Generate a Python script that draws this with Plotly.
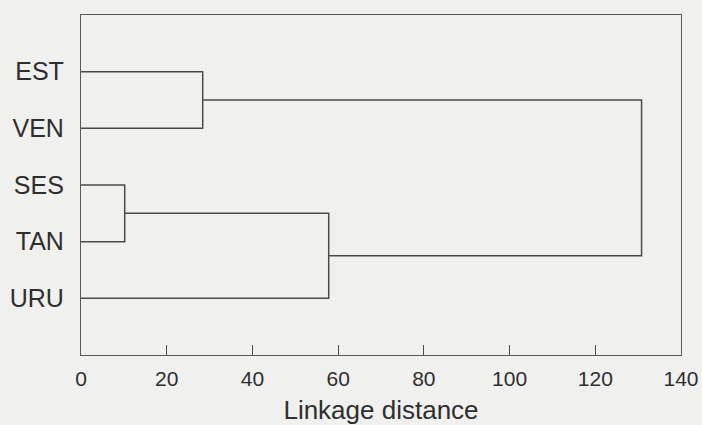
import plotly.graph_objects as go

# Data
leaves = ["EST", "VEN", "SES", "TAN", "URU"]
leaf_pos = [5, 4, 3, 2, 1]
# merges: (child_a, child_b, linkage distance); indices >= len(leaves) refer to earlier merges
merges = [
    (0, 1, 28.4),
    (2, 3, 10.2),
    (6, 4, 57.8),
    (5, 7, 130.8),
]
x_ticks = [0, 20, 40, 60, 80, 100, 120, 140]

# Build dendrogram segments
node_y = list(leaf_pos)
node_h = [0.0] * len(leaves)
xs, ys = [], []
for a, b, d in merges:
    ya, yb = node_y[a], node_y[b]
    ha, hb = node_h[a], node_h[b]
    xs += [ha, d, d, hb, None]
    ys += [ya, ya, yb, yb, None]
    node_y.append((ya + yb) / 2)
    node_h.append(d)

line_col = "#4a4a4a"
text_col = "#2e2e2e"
bg = "#f0f0ee"

fig = go.Figure()
fig.add_trace(go.Scatter(x=xs, y=ys, mode="lines",
                         line=dict(color=line_col, width=1.5),
                         hoverinfo="skip", showlegend=False))

fig.update_layout(
    width=702, height=425,
    margin=dict(l=81, r=21, t=15, b=70, autoexpand=False),
    paper_bgcolor=bg, plot_bgcolor=bg,
    font=dict(family="Liberation Sans, Arial, sans-serif", size=21, color=text_col),
    showlegend=False,
)
fig.update_xaxes(
    range=[0, 140], tickvals=x_ticks, ticktext=[str(v) for v in x_ticks],
    ticks="inside", ticklen=10, tickwidth=1.2, tickcolor=line_col,
    showline=True, linecolor="#5a5a5a", linewidth=1.2, mirror=True,
    showgrid=False, zeroline=False, ticklabelstandoff=5, automargin=False,
    title=dict(text="Linkage distance", standoff=13, font=dict(size=26)),
    tickfont=dict(size=21),
)
fig.update_yaxes(
    range=[0, 6], tickvals=leaf_pos, ticktext=leaves,
    ticks="", showline=True, linecolor="#5a5a5a", linewidth=1.2, mirror=True,
    showgrid=False, zeroline=False, ticklabelstandoff=11, automargin=False,
    tickfont=dict(size=25),
)

fig.write_html(
    "out.html",
    config={"displayModeBar": False},
    post_script="document.body.style.margin='0';document.body.style.background='%s';" % bg,
)
